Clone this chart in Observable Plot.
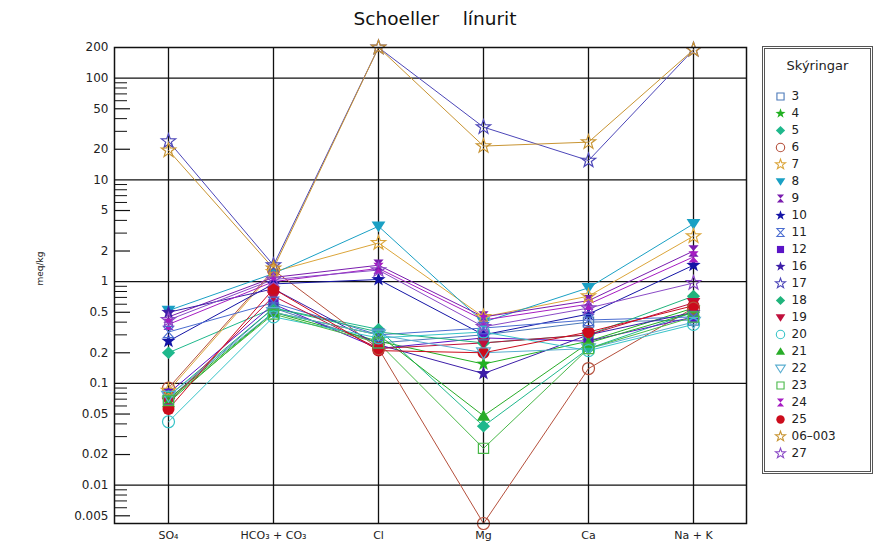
<!DOCTYPE html>
<html>
<head>
<meta charset="utf-8">
<script src="https://cdn.jsdelivr.net/npm/d3@7"></script>
<script src="https://cdn.jsdelivr.net/npm/@observablehq/plot@0.6"></script>
<style>
  html, body { margin: 0; padding: 0; background: #fff; }
  #wrap { position: relative; width: 877px; height: 543px; overflow: hidden; background: #fff; font-family: "DejaVu Sans", sans-serif; }
  #title { position: absolute; left: 0; top: 8px; width: 870px; text-align: center; font-size: 18.5px; color: #111; white-space: pre; }
  #chart { position: absolute; left: 0; top: 0; }
  #legend { position: absolute; left: 762px; top: 46px; width: 105px; height: 422px; border: 3px double #555; background: #fff; }
  #legendTitle { position: absolute; left: 0; top: 9px; width: 105px; text-align: center; font-size: 13px; color: #222; }
  #legendPlot { position: absolute; left: 0; top: 0; }
</style>
</head>
<body>
<div id="wrap">
  <div id="chart"></div>
  <div id="title">Schoeller    línurit</div>
  <div id="legend"><div id="legendTitle">Skýringar</div><div id="legendPlot"></div></div>
</div>
<script>
// ---- categories ----
const ions = ["SO₄", "HCO₃ + CO₃", "Cl", "Mg", "Ca", "Na + K"];

// ---- series ----
const seriesNames = ["3", "4", "5", "6", "7", "8", "9", "10", "11", "12", "16", "17", "18", "19", "20", "21", "22", "23", "24", "25", "06–003", "27"];
const seriesColors = ["#4a78b8", "#22b022", "#1fb88c", "#b5503c", "#dba53a", "#1aa0c4", "#7a1cae", "#1414a6", "#4a6cd0", "#5a14c6", "#3c1ea8", "#4c46b8", "#20b47c", "#c0103c", "#38c4c8", "#28ac28", "#5aaed0", "#48b848", "#a61cc2", "#cc0c1c", "#c89432", "#8a4ac6"];
const seriesSymbols = ["square", "star", "diamond", "circle", "star", "down", "hourglass", "star", "hourglass", "square", "star", "star", "diamond", "down", "circle", "triangle", "down", "square", "hourglass", "circle", "star", "star"];
const seriesFilled = [false, true, true, false, false, true, true, true, false, true, true, false, true, true, false, true, false, false, true, true, false, false];

// values per series, in the order of ions (meq/kg)
const seriesValues = [
  [0.070, 0.55, 0.25, 0.30, 0.40, 0.42],   // 3
  [0.070, 0.50, 0.26, 0.155, 0.26, 0.55],  // 4
  [0.20, 0.55, 0.34, 0.038, 0.22, 0.50],   // 5
  [0.090, 1.30, 0.22, 0.0042, 0.14, 0.55], // 6
  [0.085, 1.25, 2.4, 0.45, 0.72, 2.8],     // 7
  [0.52, 1.20, 3.5, 0.40, 0.87, 3.7],      // 8
  [0.45, 1.10, 1.45, 0.45, 0.65, 2.0],     // 9
  [0.26, 0.95, 1.05, 0.30, 0.48, 1.45],    // 10
  [0.32, 0.62, 0.30, 0.35, 0.42, 0.45],    // 11
  [0.080, 0.60, 0.22, 0.28, 0.26, 0.45],   // 12
  [0.50, 0.85, 0.24, 0.125, 0.30, 0.50],   // 16
  [24, 1.45, 200, 33, 15.5, 190],          // 17
  [0.075, 0.55, 0.32, 0.25, 0.30, 0.72],   // 18
  [0.065, 0.72, 0.22, 0.25, 0.30, 0.62],   // 19
  [0.042, 0.45, 0.28, 0.32, 0.21, 0.38],   // 20
  [0.065, 0.50, 0.30, 0.048, 0.25, 0.50],  // 21
  [0.075, 0.50, 0.30, 0.20, 0.22, 0.40],   // 22
  [0.068, 0.48, 0.25, 0.023, 0.22, 0.45],  // 23
  [0.38, 1.00, 1.35, 0.42, 0.60, 1.75],    // 24
  [0.056, 0.85, 0.21, 0.20, 0.32, 0.58],   // 25
  [19.5, 1.35, 200, 21.5, 23.5, 190],      // 06-003
  [0.42, 1.05, 1.30, 0.36, 0.55, 0.97]     // 27
];

// ---- axis ticks ----
const yTickValues = [200, 100, 50, 20, 10, 5, 2, 1, 0.5, 0.2, 0.1, 0.05, 0.02, 0.01, 0.005];
const yTickLabels = ["200", "100", "50", "20", "10", "5", "2", "1", "0.5", "0.2", "0.1", "0.05", "0.02", "0.01", "0.005"];
const yGridValues = [100, 10, 1, 0.1, 0.01];
const yDomain = [0.0042, 200];

// minor ticks: every integer multiple within each decade
const minorTicks = [];
for (const dec of [0.001, 0.01, 0.1, 1, 10, 100]) {
  for (let m = 2; m <= 9; m++) {
    const v = +(m * dec).toPrecision(3);
    if (v >= yDomain[0] && v <= yDomain[1] && !yTickValues.includes(v)) minorTicks.push(v);
  }
}
const labelledMinor = yTickValues.filter(v => !yGridValues.includes(v) && v !== 200);

// ---- symbols ----
function sym(kind) {
  return {
    draw(ctx, size) {
      const r = Math.sqrt(size / Math.PI);
      if (kind === "circle") {
        ctx.moveTo(r, 0); ctx.arc(0, 0, r, 0, 2 * Math.PI);
      } else if (kind === "square") {
        const s = 0.85 * r; ctx.rect(-s, -s, 2 * s, 2 * s);
      } else if (kind === "diamond") {
        const w = 1.1 * r, h = 1.05 * r;
        ctx.moveTo(0, -h); ctx.lineTo(w, 0); ctx.lineTo(0, h); ctx.lineTo(-w, 0); ctx.closePath();
      } else if (kind === "triangle") {
        const w = 1.1 * r;
        ctx.moveTo(0, -1.0 * r); ctx.lineTo(w, 0.8 * r); ctx.lineTo(-w, 0.8 * r); ctx.closePath();
      } else if (kind === "down") {
        const w = 1.15 * r;
        ctx.moveTo(-w, -0.8 * r); ctx.lineTo(w, -0.8 * r); ctx.lineTo(0, 1.0 * r); ctx.closePath();
      } else if (kind === "hourglass") {
        const w = 0.85 * r, h = 0.95 * r;
        ctx.moveTo(-w, -h); ctx.lineTo(w, -h); ctx.lineTo(-w, h); ctx.lineTo(w, h); ctx.closePath();
      } else if (kind === "star") {
        const R = 1.25 * r, ri = 0.5 * r;
        for (let i = 0; i < 10; i++) {
          const a = -Math.PI / 2 + i * Math.PI / 5;
          const rr = i % 2 === 0 ? R : ri;
          const x = rr * Math.cos(a), y = rr * Math.sin(a);
          if (i === 0) ctx.moveTo(x, y); else ctx.lineTo(x, y);
        }
        ctx.closePath();
      }
    }
  };
}
const symbolObjs = seriesSymbols.map(sym);

// ---- rows ----
const rows = seriesNames.flatMap((s, i) => ions.map((ion, j) => ({series: s, ion, value: seriesValues[i][j], filled: seriesFilled[i]})));

const W = 760, H = 543, ML = 114, MR = 14, MT = 47, MB = 20;
const innerW = W - ML - MR;
const fontFam = "'DejaVu Sans', sans-serif";

const chart = Plot.plot({
  width: W, height: H,
  marginLeft: ML, marginRight: MR, marginTop: MT, marginBottom: MB,
  style: {fontFamily: fontFam, background: "white", color: "#222"},
  x: {type: "point", domain: ions, padding: 0.5},
  y: {type: "log", domain: yDomain, axis: null},
  color: {domain: seriesNames, range: seriesColors},
  symbol: {domain: seriesNames, range: symbolObjs},
  marks: [
    Plot.ruleY(yGridValues, {y: d => d, stroke: "#111", strokeWidth: 1.3}),
    Plot.ruleX(ions, {x: d => d, stroke: "#111", strokeWidth: 1.3}),
    Plot.tickY(minorTicks, {y: d => d, insetRight: innerW - 13, stroke: "#111", strokeWidth: 1}),
    Plot.tickY(labelledMinor, {y: d => d, insetRight: innerW - 16, stroke: "#111", strokeWidth: 1.2}),
    Plot.line(rows, {x: "ion", y: "value", z: "series", stroke: "series", strokeWidth: 1}),
    Plot.dot(rows.filter(d => d.filled), {x: "ion", y: "value", symbol: "series", fill: "series", r: 6}),
    Plot.dot(rows.filter(d => !d.filled), {x: "ion", y: "value", symbol: "series", stroke: "series", fill: "none", strokeWidth: 1.2, r: 6}),
    Plot.frame({stroke: "#111", strokeWidth: 1.5}),
    Plot.text(yTickValues, {y: d => d, text: (d, i) => yTickLabels[i], frameAnchor: "left", dx: -6, textAnchor: "end", fontSize: 12, fill: "#222"}),
    Plot.axisX({tickSize: 0, tickPadding: 8, fontSize: 11, label: null}),
    Plot.text(["meq/kg"], {frameAnchor: "left", dx: -74, rotate: -90, fontSize: 9, fill: "#222"})
  ]
});
document.getElementById("chart").appendChild(chart);

// ---- legend ----
const legend = Plot.plot({
  width: 105, height: 422,
  margin: 0, marginLeft: 15,
  style: {fontFamily: fontFam, background: "transparent", color: "#222"},
  y: {type: "point", domain: seriesNames, range: [45, 406], padding: 0, axis: null},
  color: {domain: seriesNames, range: seriesColors},
  symbol: {domain: seriesNames, range: symbolObjs},
  marks: [
    Plot.dot(seriesNames.filter((s, i) => seriesFilled[i]), {y: d => d, frameAnchor: "left", symbol: d => d, fill: d => d, r: 4.2}),
    Plot.dot(seriesNames.filter((s, i) => !seriesFilled[i]), {y: d => d, frameAnchor: "left", symbol: d => d, stroke: d => d, fill: "none", strokeWidth: 1.1, r: 4.2}),
    Plot.text(seriesNames, {y: d => d, text: d => d, frameAnchor: "left", dx: 11, textAnchor: "start", fontSize: 12, fill: "#222"})
  ]
});
document.getElementById("legendPlot").appendChild(legend);
</script>
</body>
</html>
